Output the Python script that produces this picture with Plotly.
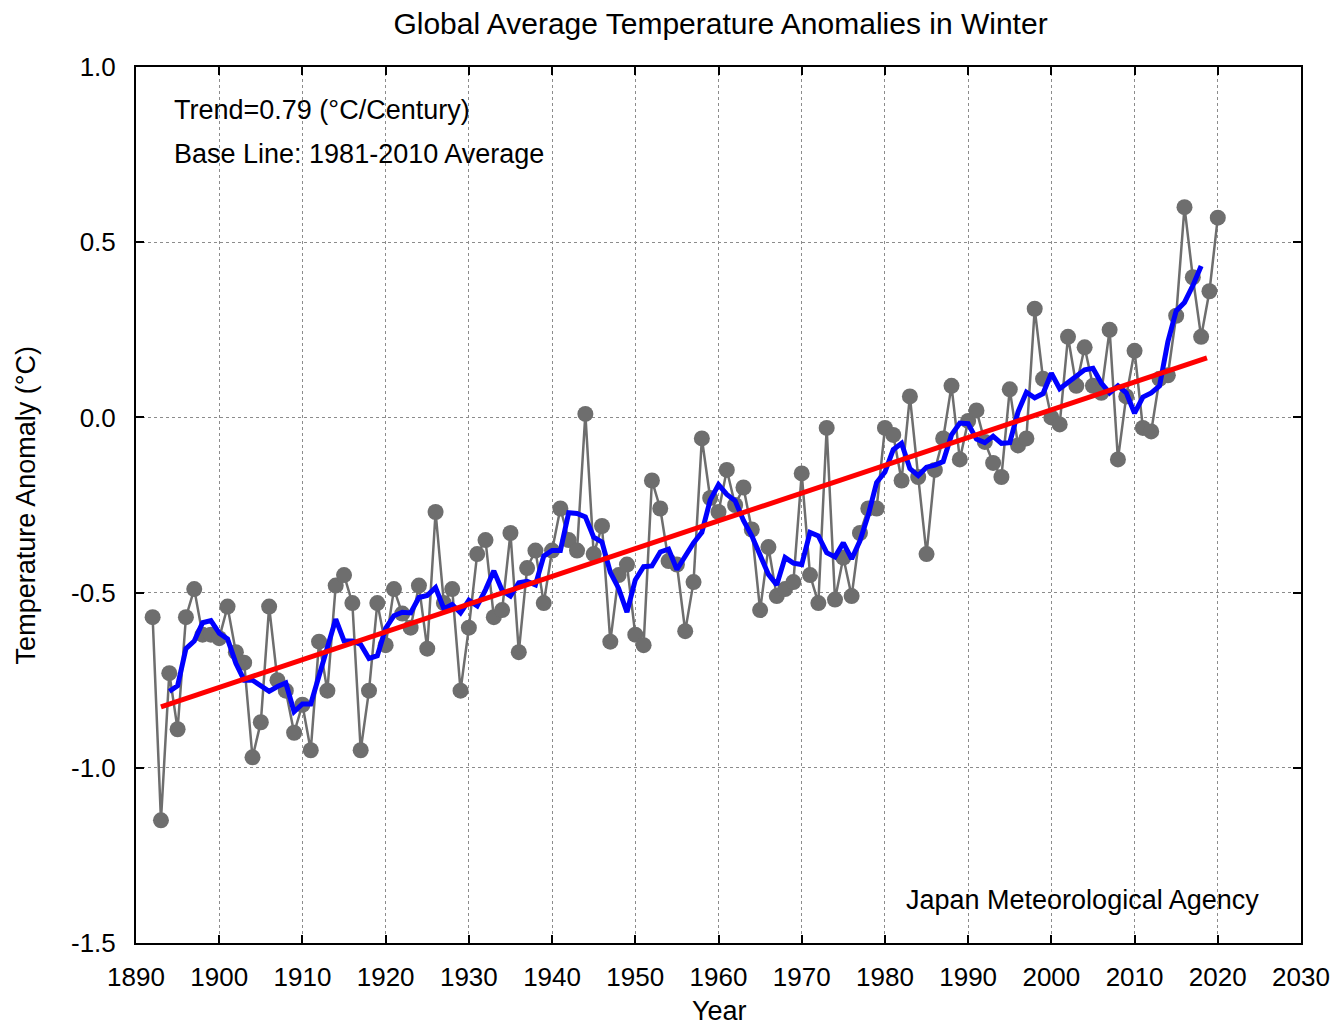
import plotly.graph_objects as go
import pandas as pd

years = list(range(1892, 2021))
anomalies = [
    -0.57, -1.15, -0.73, -0.89, -0.57, -0.49, -0.62, -0.62,            # 1892-1899
    -0.63, -0.54, -0.67, -0.70, -0.97, -0.87, -0.54, -0.75, -0.78, -0.90,  # 1900-1909
    -0.82, -0.95, -0.64, -0.78, -0.48, -0.45, -0.53, -0.95, -0.78, -0.53,  # 1910-1919
    -0.65, -0.49, -0.56, -0.60, -0.48, -0.66, -0.27, -0.53, -0.49, -0.78,  # 1920-1929
    -0.60, -0.39, -0.35, -0.57, -0.55, -0.33, -0.67, -0.43, -0.38, -0.53,  # 1930-1939
    -0.38, -0.26, -0.35, -0.38, 0.01, -0.39, -0.31, -0.64, -0.45, -0.42,   # 1940-1949
    -0.62, -0.65, -0.18, -0.26, -0.41, -0.42, -0.61, -0.47, -0.06, -0.23,  # 1950-1959
    -0.27, -0.15, -0.25, -0.20, -0.32, -0.55, -0.37, -0.51, -0.49, -0.47,  # 1960-1969
    -0.16, -0.45, -0.53, -0.03, -0.52, -0.40, -0.51, -0.33, -0.26, -0.26,  # 1970-1979
    -0.03, -0.05, -0.18, 0.06, -0.17, -0.39, -0.15, -0.06, 0.09, -0.12,    # 1980-1989
    -0.01, 0.02, -0.07, -0.13, -0.17, 0.08, -0.08, -0.06, 0.31, 0.11,      # 1990-1999
    0.00, -0.02, 0.23, 0.09, 0.20, 0.09, 0.07, 0.25, -0.12, 0.06,          # 2000-2009
    0.19, -0.03, -0.04, 0.11, 0.12, 0.29, 0.60, 0.40, 0.23, 0.36,          # 2010-2019
    0.57,                                                                  # 2020
]

trend_years = [1893, 2018.7]
trend_values = [-0.826, 0.170]

x_ticks = list(range(1890, 2031, 10))
y_ticks = [1.0, 0.5, 0.0, -0.5, -1.0, -1.5]
y_tick_labels = ["1.0", "0.5", "0.0", "-0.5", "-1.0", "-1.5"]

title_text = "Global Average Temperature Anomalies in Winter"
x_title = "Year"
y_title = "Temperature Anomaly (°C)"
note_trend = "Trend=0.79 (°C/Century)"
note_base = "Base Line: 1981-2010 Average"
note_source = "Japan Meteorological Agency"

series = pd.Series(anomalies, index=years)
running = series.rolling(5, center=True).mean().dropna()

FONT = "Liberation Sans, Arial, Helvetica, sans-serif"

# page body has an 8px margin; figure sized so the plot area lands where the reference has it
W, H = 1334, 1023
L, R, T, B = 128, 37, 59, 88
PW, PH = W - L - R, H - T - B  # 1169 x 876

fig = go.Figure()
fig.add_trace(go.Scatter(
    x=years, y=anomalies, mode="lines+markers",
    line=dict(color="#6e6e6e", width=2.5),
    marker=dict(color="#6e6e6e", size=16),
    showlegend=False, hoverinfo="x+y",
))
fig.add_trace(go.Scatter(
    x=list(running.index), y=list(running.values), mode="lines",
    line=dict(color="#0000ff", width=5),
    showlegend=False,
))
fig.add_trace(go.Scatter(
    x=trend_years, y=trend_values, mode="lines",
    line=dict(color="#ff0000", width=5),
    showlegend=False,
))

axis_common = dict(
    showline=True, mirror="ticks", linecolor="black", linewidth=2,
    ticks="inside", ticklen=8, tickwidth=1.5, tickcolor="black",
    showgrid=True, gridcolor="#8c8c8c", gridwidth=1, griddash="dot",
    zeroline=False,
    tickfont=dict(family=FONT, size=26, color="black"),
)

fig.update_xaxes(
    range=[1890, 2030], tickvals=x_ticks, ticktext=[str(t) for t in x_ticks],
    ticklabelstandoff=10, **axis_common,
)
fig.update_yaxes(
    range=[-1.5, 1.0], tickvals=y_ticks, ticktext=y_tick_labels,
    ticklabelstandoff=13, **axis_common,
)

txt = dict(family=FONT, size=27, color="black")

fig.update_layout(
    width=W, height=H,
    margin=dict(l=L, r=R, t=T, b=B),
    paper_bgcolor="white", plot_bgcolor="white",
    font=dict(family=FONT, size=26, color="black"),
    title=dict(text=title_text, x=(L + PW / 2) / W, xanchor="center", xref="container",
               y=1 - 5 / H, yanchor="top", yref="container", pad=dict(t=0, b=0),
               font=dict(family=FONT, size=30, color="black")),
    annotations=[
        dict(text=note_trend, xref="paper", yref="paper", x=(172 - 136) / PW,
             y=(943 - 110) / PH, xanchor="left", yanchor="middle", showarrow=False, font=txt),
        dict(text=note_base, xref="paper", yref="paper", x=(172 - 136) / PW,
             y=(943 - 154) / PH, xanchor="left", yanchor="middle", showarrow=False, font=txt),
        dict(text=note_source, xref="paper", yref="paper", x=(1265 - 136) / PW,
             y=(943 - 900) / PH, xanchor="right", yanchor="middle", showarrow=False, font=txt),
        dict(text=x_title, xref="paper", yref="paper", x=(722 - 136) / PW, y=-(1011 - 943) / PH,
             xanchor="center", yanchor="middle", showarrow=False, font=txt),
        dict(text=y_title, xref="paper", yref="paper", x=-(136 - 26) / PW, y=(943 - 505) / PH,
             xanchor="center", yanchor="middle", showarrow=False, textangle=-90, font=txt),
    ],
)

fig.write_html("out.html")
